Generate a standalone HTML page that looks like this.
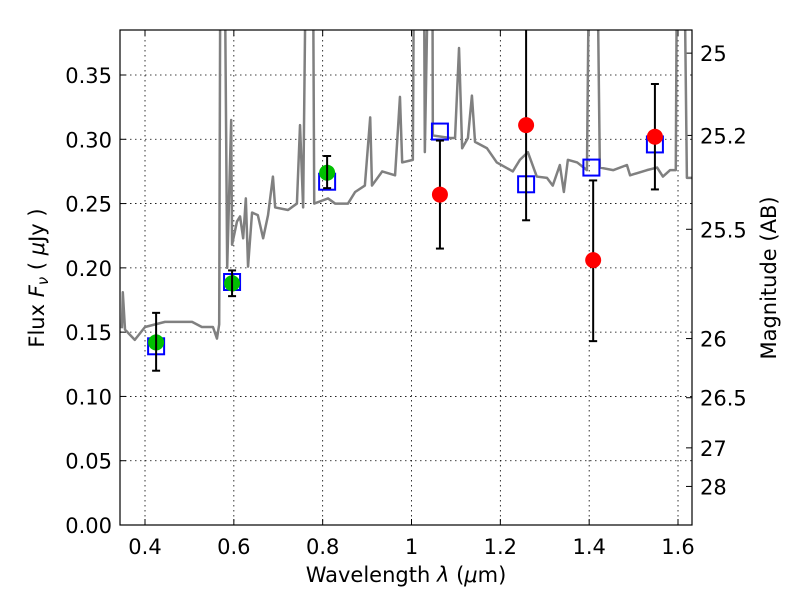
<!DOCTYPE html>
<html><head><meta charset="utf-8"><style>
body{margin:0;background:#fff;font-family:"Liberation Sans","DejaVu Sans",sans-serif}
svg text{font-family:"DejaVu Sans","Liberation Sans",sans-serif}
</style></head><body>
<svg id="chart" width="800" height="600" xmlns="http://www.w3.org/2000/svg"></svg>
<script>
const specLam=[0.348,0.350,0.355,0.377,0.400,0.445,0.506,0.528,0.553,0.562,0.567,0.571,0.576,0.585,0.594,0.596,0.607,0.614,0.621,0.627,0.632,0.641,0.654,0.666,0.677,0.688,0.693,0.722,0.742,0.749,0.756,0.767,0.776,0.781,0.812,0.828,0.857,0.873,0.895,0.907,0.911,0.934,0.963,0.974,0.979,1.003,1.008,1.026,1.030,1.046,1.048,1.087,1.098,1.107,1.114,1.127,1.136,1.143,1.170,1.192,1.228,1.244,1.262,1.282,1.305,1.318,1.334,1.343,1.352,1.373,1.395,1.404,1.413,1.424,1.454,1.485,1.492,1.530,1.553,1.566,1.582,1.595,1.600,1.609,1.620,1.634];
const specFlux=[0.153,0.181,0.152,0.144,0.154,0.158,0.158,0.154,0.154,0.145,0.156,0.6,0.6,0.200,0.315,0.218,0.236,0.240,0.223,0.254,0.201,0.243,0.241,0.223,0.241,0.271,0.247,0.245,0.250,0.311,0.247,0.6,0.6,0.250,0.254,0.250,0.250,0.259,0.264,0.317,0.264,0.275,0.272,0.333,0.282,0.284,0.6,0.6,0.290,0.6,0.303,0.301,0.301,0.371,0.293,0.301,0.334,0.298,0.293,0.282,0.275,0.284,0.290,0.271,0.270,0.264,0.280,0.259,0.284,0.282,0.276,0.6,0.6,0.278,0.276,0.280,0.272,0.276,0.278,0.271,0.276,0.276,0.6,0.6,0.270,0.270];
const obsLam=[0.425,0.596,0.810];
const obsFlux=[0.142,0.188,0.274];
const obsLo=[0.120,0.178,0.262];
const obsHi=[0.165,0.198,0.287];
const irLam=[1.064,1.258,1.409,1.548];
const irFlux=[0.257,0.311,0.206,0.302];
const irLo=[0.215,0.237,0.143,0.261];
const irHi=[0.299,0.40,0.268,0.343];
const modLam=[0.425,0.596,0.810,1.064,1.258,1.405,1.548];
const modFlux=[0.139,0.189,0.267,0.306,0.265,0.278,0.296];
const xTicks=[0.4,0.6,0.8,1.0,1.2,1.4,1.6];
const xTickLabels=["0.4","0.6","0.8","1","1.2","1.4","1.6"];
const yTicks=[0,0.05,0.10,0.15,0.20,0.25,0.30,0.35];
const yTickLabels=["0.00","0.05","0.10","0.15","0.20","0.25","0.30","0.35"];
const magLabels=["25","25.2","25.5","26","26.5","27","28"];
const magFlux=[0.367,0.303,0.230,0.145,0.099,0.060,0.030];

const L=120,R=692,T=30,B=525;
const x0=0.3437,x1=1.6315,y0=0,y1=0.385;
const X=v=>L+(v-x0)/(x1-x0)*(R-L);
const Y=v=>B-(v-y0)/(y1-y0)*(B-T);
const svg=document.getElementById('chart');
const NS='http://www.w3.org/2000/svg';
function mk(tag,attrs,parent){const e=document.createElementNS(NS,tag);for(const k in attrs)e.setAttribute(k,attrs[k]);(parent||svg).appendChild(e);return e;}
const defs=mk('defs',{});
const cp=mk('clipPath',{id:'clip'},defs);mk('rect',{x:L,y:T,width:R-L,height:B-T},cp);
xTicks.forEach((t,i)=>{
 const g=mk('line',{x1:X(t),x2:X(t),y1:T,y2:B,stroke:'#000','stroke-width':0.8,'stroke-dasharray':'1.5,3.5'});
 
 mk('line',{x1:X(t),x2:X(t),y1:B,y2:B-6,stroke:'#000'});mk('line',{x1:X(t),x2:X(t),y1:T,y2:T+6,stroke:'#000'});
 const tx=mk('text',{x:X(t),y:B+29,'text-anchor':'middle','font-size':21});tx.textContent=xTickLabels[i];
 
});
yTicks.forEach((t,i)=>{
 const g=mk('line',{x1:L,x2:R,y1:Y(t),y2:Y(t),stroke:'#000','stroke-width':0.8,'stroke-dasharray':'1.5,3.5'});
 
 mk('line',{x1:L,x2:L+6,y1:Y(t),y2:Y(t),stroke:'#000'});
 const tx=mk('text',{x:L-8,y:Y(t)+8,'text-anchor':'end','font-size':21});tx.textContent=yTickLabels[i];
 
});
magLabels.forEach((m,i)=>{
 mk('line',{x1:R-6,x2:R,y1:Y(magFlux[i]),y2:Y(magFlux[i]),stroke:'#000'});
 const tx=mk('text',{x:R+8,y:Y(magFlux[i])+8,'font-size':21});tx.textContent=m;
 
});
const pl=mk('polyline',{points:specLam.map((l,i)=>X(l)+','+Y(specFlux[i])).join(' '),fill:'none',stroke:'#808080','stroke-width':2.5,'clip-path':'url(#clip)','stroke-linejoin':'round'});

modLam.forEach((l,i)=>{
 const s=mk('rect',{x:X(l)-8,y:Y(modFlux[i])-8,width:16,height:16,fill:'none',stroke:'#0000ff','stroke-width':2,'clip-path':'url(#clip)'});
 
});
function err(l,lo,hi){
 const g=mk('g',{'clip-path':'url(#clip)'});
 
 mk('line',{x1:X(l),x2:X(l),y1:Y(lo),y2:Y(hi),stroke:'#000','stroke-width':2},g);
 mk('line',{x1:X(l)-4,x2:X(l)+4,y1:Y(lo),y2:Y(lo),stroke:'#000','stroke-width':2},g);
 mk('line',{x1:X(l)-4,x2:X(l)+4,y1:Y(hi),y2:Y(hi),stroke:'#000','stroke-width':2},g);
}
obsLam.forEach((l,i)=>{
 const c=mk('circle',{cx:X(l),cy:Y(obsFlux[i]),r:8,fill:'#00c000'});
 
 err(l,obsLo[i],obsHi[i]);
});
irLam.forEach((l,i)=>{
 err(l,irLo[i],irHi[i]);
 const c=mk('circle',{cx:X(l),cy:Y(irFlux[i]),r:8,fill:'#ff0000'});
 
});
const fr=mk('rect',{x:L,y:T,width:R-L,height:B-T,fill:'none',stroke:'#000','stroke-width':1.2});

const xl=mk('text',{x:406,y:582,'text-anchor':'middle','font-size':21});
xl.innerHTML='Wavelength  <tspan font-style="italic">λ</tspan> (<tspan font-style="italic">μ</tspan>m)';

const yl=mk('text',{transform:'translate(44,278) rotate(-90)','text-anchor':'middle','font-size':21});
yl.innerHTML='Flux  <tspan font-style="italic">F</tspan><tspan font-style="italic" font-size="15" dy="4">ν</tspan><tspan dy="-4">  ( </tspan><tspan font-style="italic">μ</tspan>Jy )';

const ml=mk('text',{transform:'translate(776,278) rotate(-90)','text-anchor':'middle','font-size':21});
ml.textContent='Magnitude (AB)';

</script>
</body></html>
